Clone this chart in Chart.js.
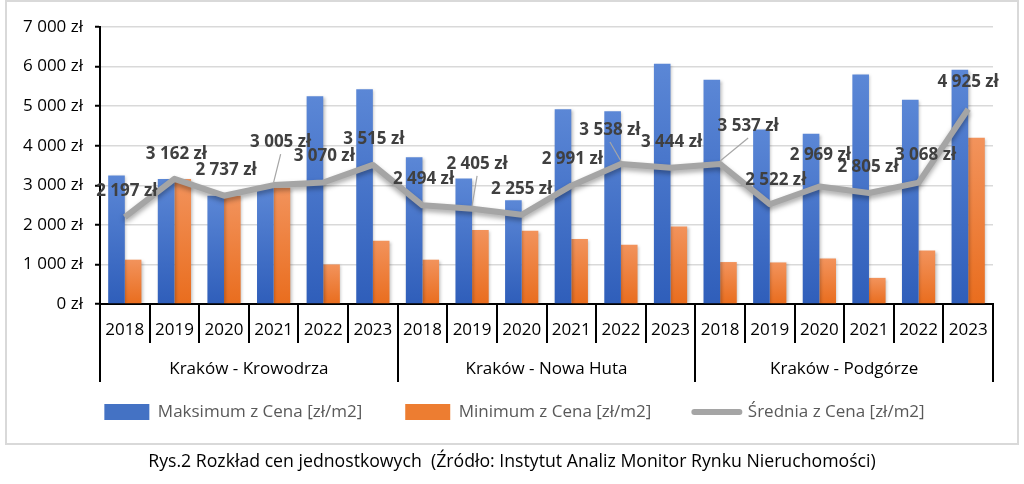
<!DOCTYPE html>
<html lang="pl">
  <head>
    <meta charset="UTF-8" />
    <title>Rozkład cen jednostkowych</title>
    <script src="https://cdn.jsdelivr.net/npm/chart.js"></script>
    <style>
      * {
        margin: 0;
        padding: 0;
        box-sizing: border-box;
      }

      body {
        width: 1024px;
        height: 484px;
        background: #fff;
        position: relative;
        overflow: hidden;
        font-family: "Open Sans", sans-serif;
      }

      .frame {
        position: absolute;
        left: 5px;
        top: 0;
        width: 1014px;
        height: 445px;
        border: 2px solid #d9d9d9;
      }

      #chartBox {
        position: absolute;
        left: 0;
        top: 0;
        width: 1024px;
        height: 484px;
      }

      .caption {
        position: absolute;
        top: 448px;
        left: 0;
        width: 1024px;
        text-align: center;
        font-size: 17.7px;
        color: #000;
        white-space: pre;
      }
    </style>
  </head>
  <body>
    <div class="frame"></div>
    <div id="chartBox">
      <canvas id="priceChart"></canvas>
    </div>
    <div class="caption">Rys.2 Rozkład cen jednostkowych  (Źródło: Instytut Analiz Monitor Rynku Nieruchomości)</div>

    <script>
      // categories
      const districts = ["Kraków - Krowodrza", "Kraków - Nowa Huta", "Kraków - Podgórze"];
      const years = ["2018", "2019", "2020", "2021", "2022", "2023"];

      // series (zł/m2), 6 years per district
      const maxPrice = [3250, 3162, 2737, 2940, 5250, 5430, 3710, 3170, 2620, 4920, 4870, 6070, 5670, 4410, 4300, 5800, 5160, 5920];
      const minPrice = [1120, 3162, 2737, 2940, 1000, 1600, 1120, 1870, 1850, 1640, 1500, 1960, 1060, 1050, 1150, 660, 1350, 4200];
      const avgPrice = [2197, 3162, 2737, 3005, 3070, 3515, 2494, 2405, 2255, 2991, 3538, 3444, 3537, 2522, 2969, 2805, 3068, 4925];

      const seriesNames = ["Maksimum z Cena [zł/m2]", "Minimum z Cena [zł/m2]", "Średnia z Cena [zł/m2]"];

      // y axis
      const yMin = 0;
      const yMax = 7000;
      const yStep = 1000;

      // where each average label sits relative to its point: [dx, dy, leader line]
      const labelLayout = [
        [2, -26], [2, -25], [2, -26], [7, -43, true], [1, -26], [1, -26],
        [1, -26], [5, -45, true], [0, -26], [1, -26], [-11, -34, true], [1, -26],
        [28, -38, true], [6, -24], [1, -31], [-1, -26], [7, -27], [0, -27],
      ];

      const colors = {
        blue: ["#5b87d6", "#2f5eba", "#4472c4"],
        orange: ["#f2935c", "#e96d1e", "#ed7d31"],
        grey: "#a5a5a5",
      };

      Chart.defaults.font.family = '"Open Sans", sans-serif';
      Chart.defaults.font.size = 17;

      const zl = (v) => String(Math.round(v)).replace(/\B(?=(\d{3})+(?!\d))/g, " ") + " zł";

      // each bar gets its own gradient, light on top
      function barFill(light, dark) {
        return (ctx) => {
          const chart = ctx.chart;
          const area = chart.chartArea;
          if (!area || ctx.type !== "data") return dark;
          const top = chart.scales.y.getPixelForValue(ctx.raw);
          const g = chart.ctx.createLinearGradient(0, top, 0, area.bottom);
          g.addColorStop(0, light);
          g.addColorStop(1, dark);
          return g;
        };
      }

      const valueLabels = {
        id: "valueLabels",
        // legend sits a bit higher and more to the right than chart.js puts it
        afterLayout(chart) {
          const lg = chart.legend;
          if (!lg) return;
          lg.left += 36;
          lg.top -= 20.5;
          lg.bottom -= 20.5;
        },
        beforeDatasetDraw(chart, args) {
          const c = chart.ctx;
          c.save();
          if (args.meta.type === "line") {
            c.shadowColor = "rgba(0,0,0,0.35)";
            c.shadowBlur = 5;
            c.shadowOffsetY = 3;
          } else {
            c.shadowColor = "rgba(0,0,0,0.25)";
            c.shadowBlur = 3;
            c.shadowOffsetX = 1.5;
            c.shadowOffsetY = 1;
          }
        },
        afterDatasetDraw(chart) {
          chart.ctx.restore();
        },
        afterDatasetsDraw(chart) {
          const c = chart.ctx;
          const meta = chart.getDatasetMeta(2);
          c.save();
          c.font = 'bold 17px "Open Sans", sans-serif';
          c.fillStyle = "#404040";
          c.textAlign = "center";
          c.textBaseline = "middle";
          meta.data.forEach((pt, i) => {
            const [dx, dy, leader] = labelLayout[i];
            const lx = pt.x + dx;
            const ly = pt.y + dy;
            if (leader) {
              c.strokeStyle = "#a6a6a6";
              c.lineWidth = 1.2;
              c.beginPath();
              c.moveTo(lx, ly + 12);
              c.lineTo(pt.x, pt.y - 3);
              c.stroke();
            }
            c.fillText(zl(avgPrice[i]), lx, ly);
          });
          c.restore();
        },
      };

      new Chart(document.getElementById("priceChart"), {
        type: "bar",
        data: {
          labels: districts.flatMap(() => years),
          datasets: [
            {
              label: seriesNames[0],
              data: maxPrice,
              backgroundColor: barFill(colors.blue[0], colors.blue[1]),
              borderWidth: 0,
              categoryPercentage: 0.67,
              barPercentage: 1.0,
            },
            {
              label: seriesNames[1],
              data: minPrice,
              backgroundColor: barFill(colors.orange[0], colors.orange[1]),
              borderWidth: 0,
              categoryPercentage: 0.67,
              barPercentage: 1.0,
            },
            {
              type: "line",
              label: seriesNames[2],
              data: avgPrice,
              borderColor: colors.grey,
              borderWidth: 6,
              borderJoinStyle: "round",
              pointRadius: 0,
              tension: 0,
              fill: false,
              order: -1,
            },
          ],
        },
        options: {
          responsive: true,
          maintainAspectRatio: false,
          animation: false,
          layout: {
            padding: { left: 0, top: 27, right: 31, bottom: 33 },
          },
          plugins: {
            tooltip: { enabled: false },
            legend: {
              position: "bottom",
              labels: {
                usePointStyle: true,
                pointStyleWidth: 45,
                boxHeight: 16,
                padding: 43,
                color: "#595959",
                font: { size: 17 },
                generateLabels: (chart) => {
                  const fills = [colors.blue[2], colors.orange[2], colors.grey];
                  return chart.data.datasets.map((ds, i) => ({
                    text: ds.label,
                    fillStyle: fills[i],
                    strokeStyle: fills[i],
                    lineWidth: ds.type === "line" ? 6 : 0,
                    lineCap: "round",
                    pointStyle: ds.type === "line" ? "line" : "rect",
                    fontColor: "#595959",
                    hidden: false,
                    datasetIndex: i,
                  }));
                },
              },
            },
          },
          scales: {
            x: {
              offset: true,
              grid: {
                drawOnChartArea: false,
                offset: true,
                tickLength: 39,
                color: "#000",
                lineWidth: 2,
              },
              border: { color: "#000", width: 2 },
              ticks: {
                autoSkip: false,
                maxRotation: 0,
                minRotation: 0,
                padding: -23,
                color: "#000",
              },
              afterFit: (s) => {
                s.height = 39;
              },
            },
            x2: {
              type: "category",
              labels: districts,
              position: "bottom",
              offset: true,
              bounds: "ticks",
              grid: {
                drawOnChartArea: false,
                offset: true,
                tickLength: 39,
                color: "#000",
                lineWidth: 2,
              },
              border: { display: false },
              ticks: {
                autoSkip: false,
                maxRotation: 0,
                minRotation: 0,
                padding: -23,
                color: "#000",
              },
              afterFit: (s) => {
                s.height = 38;
              },
            },
            y: {
              min: yMin,
              max: yMax,
              ticks: {
                stepSize: yStep,
                padding: 12,
                color: "#000",
                callback: (v) => zl(v),
              },
              grid: {
                color: "#d9d9d9",
                lineWidth: 1.5,
                tickLength: 5,
                tickColor: "#000",
                tickWidth: 2,
              },
              border: { color: "#000", width: 2 },
              afterFit: (s) => {
                s.width = 100;
              },
            },
          },
        },
        plugins: [valueLabels],
      });
    </script>
  </body>
</html>
